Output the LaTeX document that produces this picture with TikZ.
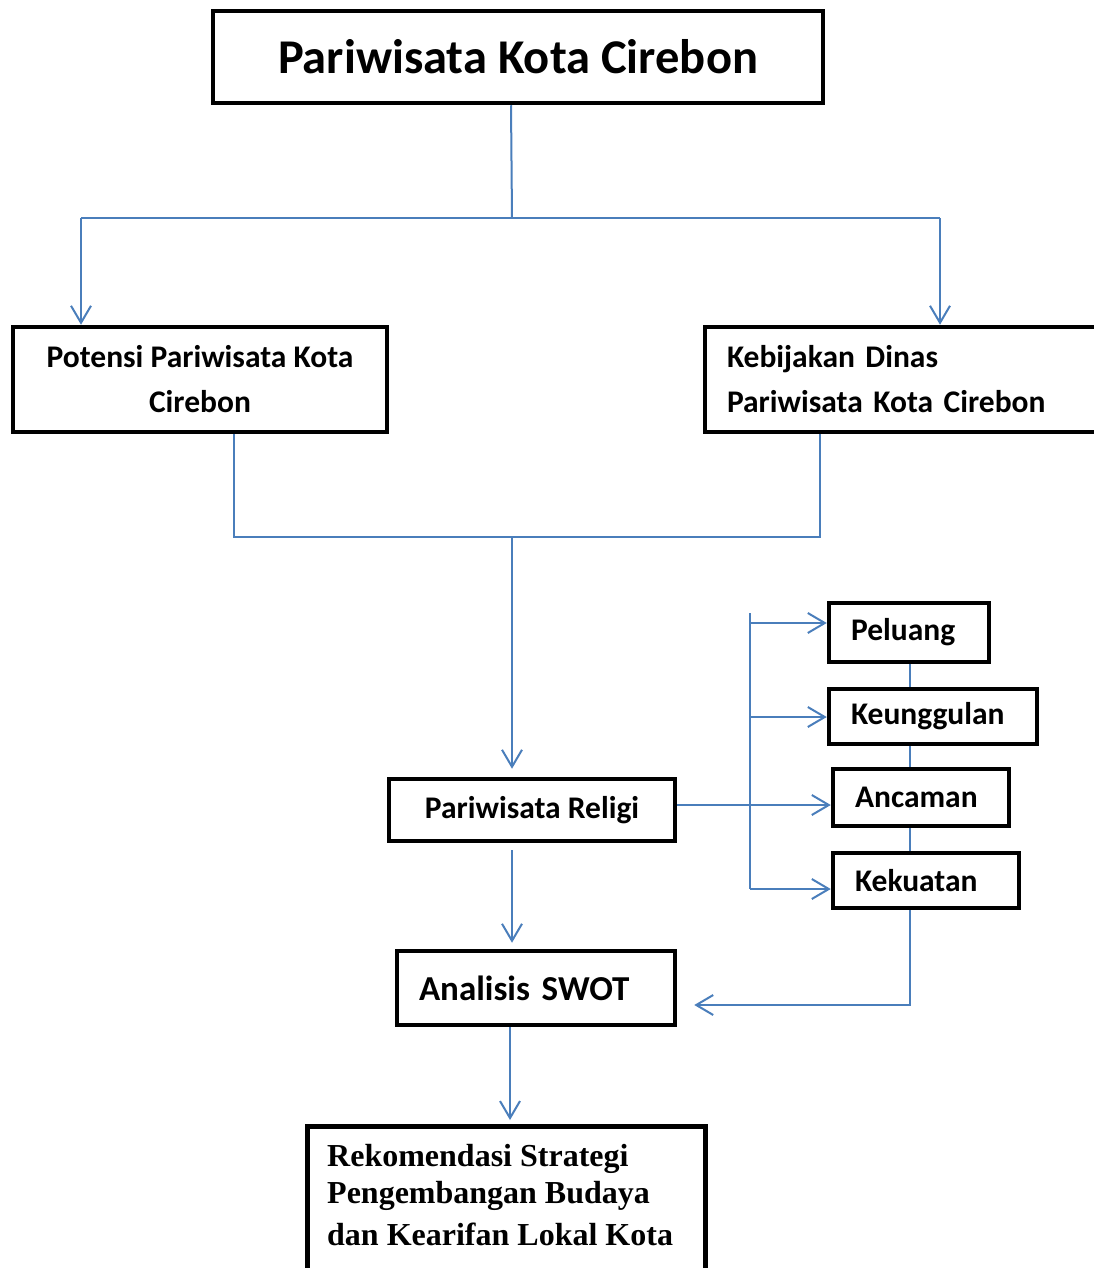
\documentclass[tikz,border=0pt]{standalone}
\usepackage{fontspec}
\setmainfont{Carlito}
\newfontfamily\timesf{Liberation Serif}
\usetikzlibrary{arrows.meta}
\definecolor{lineblue}{RGB}{74,126,187}
\begin{document}
\begin{tikzpicture}[x=1pt,y=-1pt,
  box/.style={draw=black,line width=4.5pt,inner sep=0pt,font=\bfseries\fontsize{31.5}{45}\selectfont},
  lbox/.style={box,align=left,inner xsep=22pt},
  link/.style={draw=lineblue,line width=2pt},
  arr/.style={link,-{Straight Barb[length=17pt,width=20pt]}}]
\useasboundingbox (0,0) rectangle (1094,1268);
\fill[white] (0,0) rectangle (1094,1268);
\clip (0,0) rectangle (1094,1268);

% boxes
\node[box,minimum width=610pt,minimum height=92pt,font=\bfseries\fontsize{48.5}{56}\selectfont] (title) at (518,57) {Pariwisata Kota Cirebon};
\node[box,align=center,minimum width=374pt,minimum height=105pt] (potensi) at (200,379.5) {Potensi Pariwisata Kota\\Cirebon};
\node[lbox,text width=372pt,minimum width=416pt,minimum height=105pt] (kebijakan) at (913,379.5) {Kebijakan Dinas\\Pariwisata Kota Cirebon};
\node[box,minimum width=286pt,minimum height=62pt] (religi) at (532,810) {Pariwisata Religi};
\node[lbox,text width=234pt,minimum width=278pt,minimum height=74pt,font=\bfseries\fontsize{35}{42}\selectfont] (swot) at (536,988) {Analisis SWOT};
\node[lbox,text width=116pt,minimum width=160pt,minimum height=59pt] (peluang) at (909,632.5) {Peluang};
\node[lbox,text width=164pt,minimum width=208pt,minimum height=55pt] (keunggulan) at (933,716.5) {Keunggulan};
\node[lbox,text width=132pt,minimum width=176pt,minimum height=57pt] (ancaman) at (921,797.5) {Ancaman};
\node[lbox,text width=142pt,minimum width=186pt,minimum height=55pt] (kekuatan) at (926,880.5) {Kekuatan};
\node[draw=black,line width=4.5pt,inner sep=0pt,minimum width=398pt,minimum height=200pt,anchor=north west] (rek) at (305,1124) {};
\node[anchor=north west,inner sep=0pt,align=left,font=\timesf\bfseries\fontsize{32}{37}\selectfont] (rektext) at (327,1144) {Rekomendasi Strategi\\Pengembangan Budaya\\[5pt]dan Kearifan Lokal Kota};

% connectors top
\coordinate (tj) at (512,218);
\coordinate (jl) at (81,218);
\coordinate (jr) at (940,218);
\draw[link] ([xshift=-7pt]title.south) -- (tj);
\draw[link] (jl) -- (jr);
\draw[arr] (jl) -- (jl |- potensi.north);
\draw[arr] (jr) -- (jr |- kebijakan.north);

% merge
\coordinate (pj) at (234,537);
\coordinate (kj) at (820,537);
\coordinate (mj) at (512,537);
\draw[link] (pj |- potensi.south) -- (pj) -- (kj) -- (kj |- kebijakan.south);
\draw[arr,shorten >=8pt] (mj) -- (mj |- religi.north);
\draw[arr,shorten <=7pt,shorten >=6pt] (mj |- religi.south) -- (mj |- swot.north);
\draw[arr,shorten >=4pt] ([xshift=-26pt]swot.south) -- ([xshift=-26pt]swot.south |- rek.north);

% bus to SWOT factors
\coordinate (b1) at (750,623);
\coordinate (b2) at (750,717);
\coordinate (b3) at (750,805);
\coordinate (b4) at (750,889);
\coordinate (bt) at (750,613);
\draw[link] (bt) -- (b4);
\draw[link] (religi.east |- b3) -- (b3);
\draw[arr] (b1) -- (b1 -| peluang.west);
\draw[arr] (b2) -- (b2 -| keunggulan.west);
\draw[arr] (b3) -- (b3 -| ancaman.west);
\draw[arr] (b4) -- (b4 -| kekuatan.west);

% vertical links between factor boxes
\coordinate (vx) at (910,0);
\draw[link] (vx |- peluang.south) -- (vx |- keunggulan.north);
\draw[link] (vx |- keunggulan.south) -- (vx |- ancaman.north);
\draw[link] (vx |- ancaman.south) -- (vx |- kekuatan.north);
\coordinate (kc) at (910,1005);
\draw[arr,shorten >=17pt] (vx |- kekuatan.south) -- (kc) -- (kc -| swot.east);
\end{tikzpicture}
\end{document}
